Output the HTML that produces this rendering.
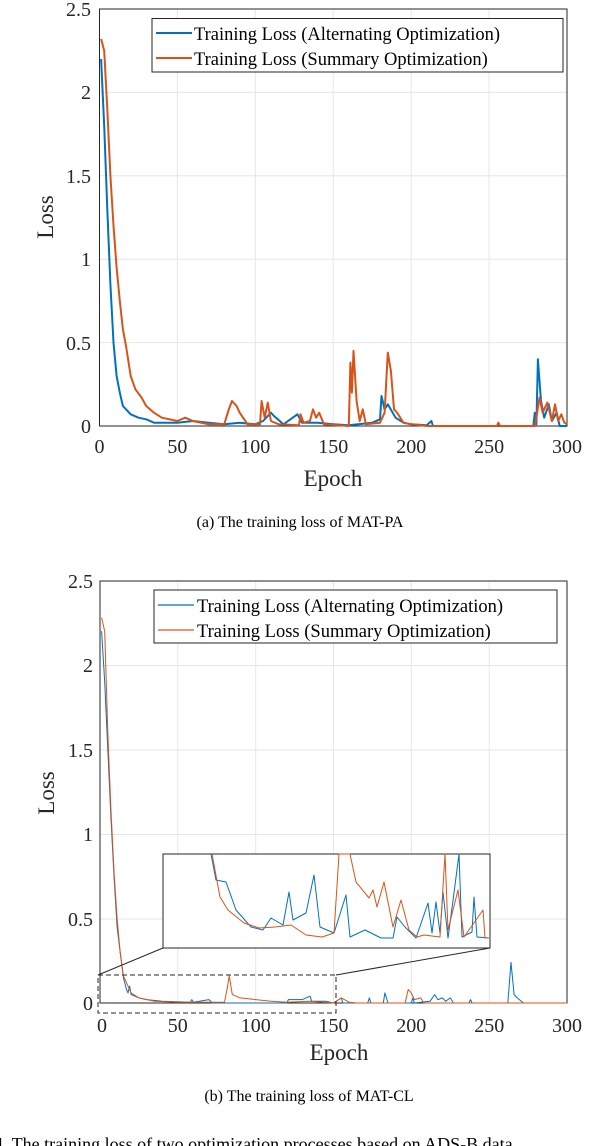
<!DOCTYPE html>
<html><head><meta charset="utf-8"><style>
body{margin:0;background:#fff;}
svg{display:block;font-family:"Liberation Serif",serif;}
</style></head><body>
<svg width="616" height="1146" viewBox="0 0 616 1146">
<!-- TOP CHART -->
<g stroke="#e6e6e6" stroke-width="1">
<line x1="177.4" y1="9" x2="177.4" y2="426"/><line x1="255.3" y1="9" x2="255.3" y2="426"/><line x1="333.2" y1="9" x2="333.2" y2="426"/><line x1="411.2" y1="9" x2="411.2" y2="426"/><line x1="489.1" y1="9" x2="489.1" y2="426"/>
<line x1="99.5" y1="92.4" x2="567" y2="92.4"/><line x1="99.5" y1="175.8" x2="567" y2="175.8"/><line x1="99.5" y1="259.2" x2="567" y2="259.2"/><line x1="99.5" y1="342.6" x2="567" y2="342.6"/>
</g>
<rect x="99.5" y="9" width="467.5" height="417" fill="none" stroke="#262626" stroke-width="1"/>
<g fill="none" stroke-width="2" stroke-linejoin="round">
<polyline stroke="#0072bd" points="101.1,59 104.2,125.8 107.3,209.2 110.4,284.2 113.5,342.6 116.6,376 119.8,392.6 122.9,406 130.7,414.3 138.5,417.7 146.2,419.3 154,422.7 177.4,422.7 193,421 208.6,422.7 224.2,424.3 239.7,422.7 255.3,424.3 263.1,421 270.9,412.7 274,416 283.4,424.3 292.7,417.7 297.4,414.3 302.1,422.7 317.7,422.7 333.2,424.3 348.8,425.2 372.2,422.7 380,419.3 381.5,396 384.6,409.3 387.8,404.3 395.6,417.7 403.4,422.7 411.2,424.3 426.7,425.2 431.4,421 433,426 489.1,426 533.3,426 534.8,412.7 536.4,424.3 537.9,359.3 541,401 544.2,417.7 548.8,404.3 551.9,421 556.6,412.7 559.7,426 567,426"/>
<polyline stroke="#d95319" points="101.1,39 104.2,50.7 107.3,109.1 110.4,175.8 113.5,225.8 116.6,267.5 119.8,300.9 122.9,329.3 126,345.9 130.7,376 135.4,389.3 141.6,397.6 146.2,406 154,412.7 161.8,417.7 177.4,421 185.2,417.7 193,421 208.6,424.3 224.2,424.3 228.8,409.3 232,401 236.6,406 239.7,412.7 247.5,424.3 260,424.3 261.6,401 264.7,417.7 267.8,402.6 270.9,421 278.7,424.3 299,425.2 300.5,414.3 303.6,422.7 309.9,421 313,409.3 316.1,417.7 319.2,412.7 323.9,424.3 348.8,426 350.4,362.6 351.9,392.6 353.5,350.9 356.6,401 359.7,421 362.8,409.3 365.9,424.3 380,422.7 384.6,412.7 387.8,352.6 390.9,370.9 394,409.3 397.1,412.7 403.4,422.7 411.2,424.3 426.7,426 496.9,426 498.4,422.7 500,426 534.8,426 536.4,417.7 539.5,397.6 542.6,412.7 547.3,402.6 551.9,421 555,404.3 558.2,421 561.3,414.3 564.4,422.7 567,424.3"/>
</g>
<g font-size="20" fill="#262626" text-anchor="end">
<text x="91" y="16">2.5</text><text x="91" y="99">2</text><text x="91" y="183">1.5</text><text x="91" y="266">1</text><text x="91" y="350">0.5</text><text x="91" y="433">0</text>
</g>
<g font-size="20" fill="#262626" text-anchor="middle">
<text x="99.5" y="453">0</text><text x="177.4" y="453">50</text><text x="255.3" y="453">100</text><text x="333.2" y="453">150</text><text x="411.2" y="453">200</text><text x="489.1" y="453">250</text><text x="567" y="453">300</text>
<text x="333" y="486" font-size="23">Epoch</text>
</g>
<text transform="translate(53,217) rotate(-90)" font-size="23" text-anchor="middle" fill="#262626">Loss</text>
<rect x="152" y="18.5" width="411" y2="72" height="53.5" fill="#fff" stroke="#262626" stroke-width="1"/>
<line x1="156" y1="33" x2="192" y2="33" stroke="#0072bd" stroke-width="2"/>
<line x1="156" y1="58" x2="192" y2="58" stroke="#d95319" stroke-width="2"/>
<g font-size="18.5" fill="#000"><text x="194" y="40">Training Loss (Alternating Optimization)</text><text x="194" y="65">Training Loss (Summary Optimization)</text></g>
<text x="300" y="527" font-size="16" text-anchor="middle">(a)  The training loss of MAT-PA</text>

<!-- BOTTOM CHART -->
<g stroke="#e6e6e6" stroke-width="1">
<line x1="177.8" y1="581" x2="177.8" y2="1003"/><line x1="255.7" y1="581" x2="255.7" y2="1003"/><line x1="333.5" y1="581" x2="333.5" y2="1003"/><line x1="411.3" y1="581" x2="411.3" y2="1003"/><line x1="489.2" y1="581" x2="489.2" y2="1003"/>
<line x1="100" y1="665.5" x2="567" y2="665.5"/><line x1="100" y1="750" x2="567" y2="750"/><line x1="100" y1="834.5" x2="567" y2="834.5"/><line x1="100" y1="919" x2="567" y2="919"/>
</g>
<rect x="100" y="581" width="467" height="422" fill="none" stroke="#262626" stroke-width="1"/>
<g fill="none" stroke-width="1" stroke-linejoin="round">
<polyline stroke="#0072bd" points="101.6,631.2 104.7,681.9 107.8,749.5 110.9,817.1 114,876.3 117.1,926.9 120.2,952.3 123.4,977.6 126.5,989.5 128,992.9 129.6,986.1 131.1,994.6 138.9,997.9 146.7,999.6 162.3,1001.3 190.3,1002.2 191.8,999.6 193.4,1002.2 209,999.6 212.1,1003 286.8,1003 288.4,999.6 302.4,999.6 310.1,996.2 311.7,1001.3 325.7,1001.3 333.5,1003 341.3,997.9 342.8,1003 367.7,1003 369.3,997.9 370.9,1003 383.3,1003 384.9,992.9 388,1003 411.3,1003 412.9,997.9 414.4,1003 430,1001.3 434.7,994.6 437.8,999.6 442.5,997.9 445.6,1001.3 450.3,997.9 453.4,1003 468.9,1003 470.5,999.6 472.1,1003 507.8,1003 511,962.4 514.1,994.6 517.2,997.9 523.4,1003 567,1003"/>
<polyline stroke="#d95319" points="101.6,617.7 104.7,631.2 107.8,732.6 110.9,808.7 114,871.2 117.1,918.5 120.2,952.3 123.4,976 128,986.1 131.1,992.9 138.9,997.9 154.5,1001.3 177.8,1002.2 224.5,1002.2 227.6,986.1 229.2,976 232.3,994.6 240.1,997.9 255.7,999.6 271.2,1001.3 286.8,1002.2 310.1,1001.3 333.5,1003 341.3,997.9 349.1,1002.2 356.9,1003 405.1,1003 408.2,989.5 411.3,992.9 414.4,999.6 420.7,997.9 423.8,1003 567,1003"/>
</g>
<!-- zoom indicators -->
<rect x="98" y="975" width="238" height="38" fill="none" stroke="#262626" stroke-width="1" stroke-dasharray="5,3"/>
<line x1="98" y1="975" x2="163" y2="948" stroke="#262626" stroke-width="1"/>
<line x1="336" y1="975" x2="490" y2="948" stroke="#262626" stroke-width="1"/>
<rect x="163" y="854" width="327" height="94" fill="#fff" stroke="#262626" stroke-width="1"/>
<g fill="none" stroke-width="1" stroke-linejoin="round">
<polyline stroke="#0072bd" points="211,854 216,880 226,882 236,910 251,927 263,930 271,918 283,925 289,892 293,920 306,913 314,875 320,927 334,933 346,895 350,937 365,930 381,938 393,938 397,917 405,927 416,938 428,903 432,933 436,902 440,933 443,892 448,938 454,893 459,854 462,937 472,932 474,897 477,937 489,938"/>
<polyline stroke="#d95319" points="212,854 220,897 228,910 244,923 259,928 275,927 291,925 306,935 322,937 334,933 339,854 350,854 356,882 369,898 373,890 377,907 384,882 393,927 401,900 409,930 417,937 424,935 440,937 445,854 448,930 458,890 464,937 483,910 485,938 489,938"/>
</g>
<g font-size="20" fill="#262626" text-anchor="end">
<text x="93" y="588">2.5</text><text x="93" y="672">2</text><text x="93" y="757">1.5</text><text x="93" y="841">1</text><text x="93" y="926">0.5</text><text x="93" y="1010">0</text>
</g>
<g font-size="20" fill="#262626" text-anchor="middle">
<text x="102" y="1032">0</text><text x="177.8" y="1032">50</text><text x="255.7" y="1032">100</text><text x="333.5" y="1032">150</text><text x="411.3" y="1032">200</text><text x="489.2" y="1032">250</text><text x="567" y="1032">300</text>
<text x="339" y="1060" font-size="23">Epoch</text>
</g>
<text transform="translate(54,793) rotate(-90)" font-size="23" text-anchor="middle" fill="#262626">Loss</text>
<rect x="154" y="590" width="403" height="53" fill="#fff" stroke="#262626" stroke-width="1"/>
<line x1="158" y1="605" x2="194" y2="605" stroke="#0072bd" stroke-width="1.2"/>
<line x1="158" y1="630" x2="194" y2="630" stroke="#d95319" stroke-width="1.2"/>
<g font-size="18.5" fill="#000"><text x="197" y="612">Training Loss (Alternating Optimization)</text><text x="197" y="637">Training Loss (Summary Optimization)</text></g>
<text x="309" y="1101" font-size="16" text-anchor="middle">(b)  The training loss of MAT-CL</text>
<text x="-6" y="1150" font-size="18">4.  The training loss of two optimization processes based on ADS-B data</text>
</svg>
</body></html>
